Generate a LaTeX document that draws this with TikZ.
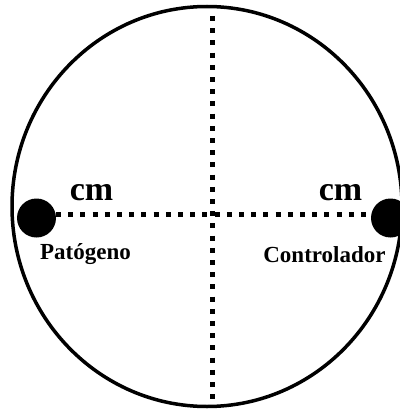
\documentclass[tikz,border=0pt]{standalone}
\usepackage{fontspec}
\setmainfont{Liberation Serif}
\begin{document}
\begin{tikzpicture}[x=1pt,y=-1pt,
  rim/.style={line width=3.5pt},
  dotline/.style={line width=5pt, dash pattern=on 5pt off 7.2pt, line cap=butt},
  blob/.style={circle, fill=black, minimum size=39pt, inner sep=0pt},
  bigtxt/.style={inner sep=0pt, anchor=base, font=\bfseries\fontsize{34}{34}\selectfont},
  lbl/.style={inner sep=0pt, anchor=base, font=\bfseries\fontsize{23}{23}\selectfont}]
\useasboundingbox (0,0) rectangle (399,412);
\draw[rim] (207,206.5) ellipse [x radius=195, y radius=200];
\coordinate (vtop) at (212,16);
\coordinate (vbot) at (212,405);
\draw[dotline] (vtop) -- (vbot);
\node[blob] (pat) at (36.5,218) {};
\node[blob] (ctrl) at (390.5,218) {};
\coordinate (hl) at (56,214.5);
\coordinate (hr) at (372,214.5);
\draw[dotline] (hl) -- (hr);
\node[bigtxt] (cm1) at (91.5,200) {cm};
\node[bigtxt] (cm2) at (340.5,200) {cm};
\node[lbl] (lp) at (85.5,259.5) {Patógeno};
\node[lbl] (lc) at (324.5,262) {Controlador};
\end{tikzpicture}
\end{document}
